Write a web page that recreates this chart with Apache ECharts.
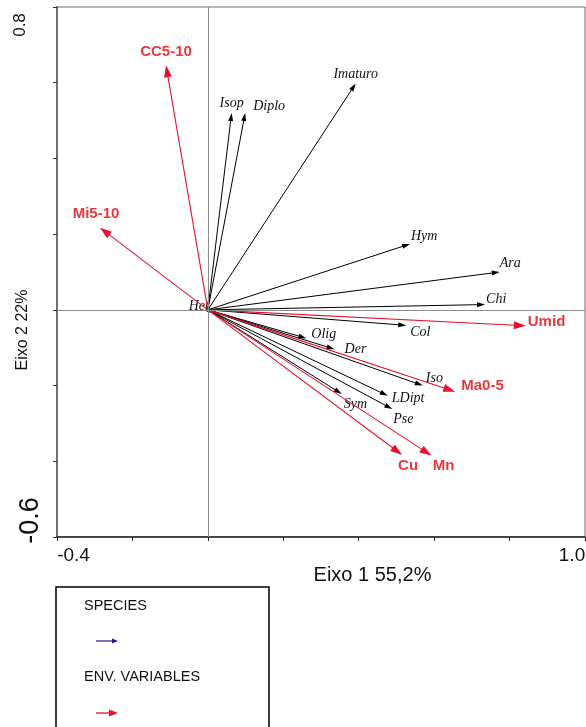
<!DOCTYPE html>
<html>
<head>
<meta charset="utf-8">
<style>
  html, body { margin: 0; padding: 0; background: #fff; }
  #chart { width: 586px; height: 727px; }
</style>
<script src="https://cdn.jsdelivr.net/npm/echarts@6/dist/echarts.min.js"></script>
</head>
<body>
<div id="chart"></div>
<script>
// CCA biplot: species scores and environmental variables on the first two axes
const speciesNames = ['Isop', 'Diplo', 'Imaturo', 'Hym', 'Ara', 'Chi', 'Col', 'Olig', 'Der', 'Iso', 'LDipt', 'Pse', 'Sym', 'Het'];
const speciesAxis1 = [0.063, 0.099, 0.392, 0.536, 0.774, 0.735, 0.526, 0.261, 0.336, 0.570, 0.477, 0.489, 0.355, 0.008];
const speciesAxis2 = [0.520, 0.520, 0.598, 0.174, 0.100, 0.014, -0.041, -0.075, -0.104, -0.200, -0.227, -0.262, -0.222, -0.008];

const envNames = ['CC5-10', 'Mi5-10', 'Umid', 'Ma0-5', 'Cu', 'Mn'];
const envAxis1 = [-0.111, -0.286, 0.843, 0.656, 0.515, 0.593];
const envAxis2 = [0.646, 0.217, -0.042, -0.216, -0.383, -0.385];

const axis1Ticks = { min: -0.4, max: 1.0, step: 0.2 };
const axis2Ticks = { min: -0.6, max: 0.8, step: 0.2 };
const axis1Title = 'Eixo 1 55,2%';
const axis2Title = 'Eixo 2 22%';
const legendTitles = ['SPECIES', 'ENV. VARIABLES'];

// label placement relative to each arrow tip: [dx, dy, align]
const labelPlacement = {
  'Isop': [0, -10, 'center'],
  'Diplo': [8, -7, 'left'],
  'Imaturo': [0, -9, 'center'],
  'Hym': [1, -8, 'left'],
  'Ara': [0, -9, 'left'],
  'Chi': [1, -5, 'left'],
  'Col': [4, 7, 'left'],
  'Olig': [5, -4, 'left'],
  'Der': [10, 0, 'left'],
  'Iso': [3, -7, 'left'],
  'LDipt': [4, 3, 'left'],
  'Pse': [1, 10, 'left'],
  'Sym': [2, 10, 'left'],
  'Het': [-2, -7, 'right'],
  'CC5-10': [0, -13, 'center'],
  'Mi5-10': [-4, -14, 'center'],
  'Umid': [2, -4, 'left'],
  'Ma0-5': [6, -6, 'left'],
  'Cu': [6, 11, 'center'],
  'Mn': [12, 10, 'center']
};

const RED = '#e3122f';
const RED_TEXT = '#e8383f';

function arrowSeries(names, xs, ys, look) {
  return {
    type: 'custom',
    coordinateSystem: 'cartesian2d',
    clip: false,
    silent: true,
    z: look.z,
    data: names.map((n, i) => [xs[i], ys[i]]),
    encode: { x: 0, y: 1 },
    renderItem(params, api) {
      const o = api.coord([0, 0]);
      const t = api.coord([api.value(0), api.value(1)]);
      const name = names[params.dataIndex];
      const dx = t[0] - o[0], dy = t[1] - o[1];
      const len = Math.hypot(dx, dy) || 1;
      const ux = dx / len, uy = dy / len;
      const hl = Math.min(look.headLen, Math.max(len, 5));
      const hw = look.headWidth / 2;
      const bx = t[0] - ux * hl, by = t[1] - uy * hl;
      const head = [[t[0], t[1]], [bx - uy * hw, by + ux * hw], [bx + uy * hw, by - ux * hw]];
      const p = labelPlacement[name] || [0, 0, 'left'];
      const children = [];
      if (len > hl) {
        children.push({
          type: 'line',
          shape: { x1: o[0], y1: o[1], x2: bx + ux, y2: by + uy },
          style: { stroke: look.color, lineWidth: look.lineWidth }
        });
      }
      children.push({ type: 'polygon', shape: { points: head }, style: { fill: look.color } });
      children.push({
        type: 'text',
        x: t[0] + p[0],
        y: t[1] + p[1],
        style: {
          text: name,
          fill: look.textColor,
          font: look.font,
          align: p[2],
          verticalAlign: 'middle'
        }
      });
      return { type: 'group', children };
    }
  };
}

const chart = echarts.init(document.getElementById('chart'), null, { renderer: 'canvas' });

const near = (a, b) => Math.abs(a - b) < 1e-9;

chart.setOption({
  animation: false,
  backgroundColor: '#ffffff',
  grid: {
    left: 57, right: 1, top: 7, bottom: 190,
    containLabel: false,
    outerBoundsMode: 'none',
    show: true, borderColor: '#6b6b6b', borderWidth: 1, backgroundColor: 'transparent'
  },
  xAxis: {
    type: 'value',
    min: axis1Ticks.min, max: axis1Ticks.max, interval: axis1Ticks.step,
    name: axis1Title,
    nameLocation: 'middle',
    nameGap: 28,
    nameMoveOverlap: false,
    nameTextStyle: { fontFamily: 'Liberation Sans', fontSize: 20, color: '#111', padding: [0, 0, 0, 103] },
    axisLine: { onZero: false, lineStyle: { color: '#222', width: 1.5 } },
    axisTick: { show: true, inside: false, length: 4, lineStyle: { color: '#222' } },
    splitLine: { show: false },
    axisLabel: {
      margin: 9,
      color: '#111',
      fontFamily: 'Liberation Sans',
      fontSize: 19,
      formatter: v => near(v, axis1Ticks.min) ? '{lo|' + v.toFixed(1) + '}' : (near(v, axis1Ticks.max) ? '{hi|' + v.toFixed(1) + '}' : ''),
      rich: {
        lo: { fontFamily: 'Liberation Sans', fontSize: 19, color: '#111', padding: [0, 0, 0, 33] },
        hi: { fontFamily: 'Liberation Sans', fontSize: 19, color: '#111', padding: [0, 26, 0, 0] }
      }
    }
  },
  yAxis: {
    type: 'value',
    min: axis2Ticks.min, max: axis2Ticks.max, interval: axis2Ticks.step,
    name: axis2Title,
    nameLocation: 'middle',
    nameGap: 26,
    nameMoveOverlap: false,
    nameTextStyle: { fontFamily: 'Liberation Sans', fontSize: 16, color: '#111', padding: [0, 116, 0, 0] },
    axisLine: { onZero: false, lineStyle: { color: '#707070', width: 2 } },
    axisTick: { show: true, inside: false, length: 4, lineStyle: { color: '#333' } },
    splitLine: { show: false },
    axisLabel: {
      rotate: 90,
      margin: 13,
      align: 'center',
      verticalAlign: 'bottom',
      color: '#111',
      fontFamily: 'Liberation Sans',
      formatter: v => near(v, axis2Ticks.max) ? '{hi|' + v.toFixed(1) + '}' : (near(v, axis2Ticks.min) ? '{lo|' + v.toFixed(1) + '}' : ''),
      rich: {
        hi: { fontFamily: 'Liberation Sans', fontSize: 17, color: '#111', padding: [0, 36, 15, 0] },
        lo: { fontFamily: 'Liberation Sans', fontSize: 27, color: '#111', padding: [0, 0, 0, 33] }
      }
    }
  },
  series: [
    {
      type: 'line',
      data: [],
      silent: true,
      z: 1,
      markLine: {
        silent: true,
        symbol: 'none',
        label: { show: false },
        lineStyle: { color: '#8c8c8c', width: 1, type: 'solid' },
        data: [{ xAxis: 0 }, { yAxis: 0 }]
      }
    },
    arrowSeries(speciesNames, speciesAxis1, speciesAxis2, {
      color: '#000', textColor: '#111', lineWidth: 1, headLen: 8, headWidth: 5, z: 3,
      font: 'italic 14px "Liberation Serif"'
    }),
    arrowSeries(envNames, envAxis1, envAxis2, {
      color: RED, textColor: RED_TEXT, lineWidth: 1.1, headLen: 12, headWidth: 8, z: 4,
      font: 'bold 15px "Liberation Sans"'
    })
  ],
  graphic: [
    {
      type: 'rect',
      shape: { x: 56, y: 587, width: 213, height: 200 },
      style: { fill: '#fff', stroke: '#000', lineWidth: 1.5 }
    },
    {
      type: 'text', x: 84, y: 606,
      style: { text: legendTitles[0], font: '14.5px "Liberation Sans"', fill: '#111', verticalAlign: 'middle' }
    },
    { type: 'line', shape: { x1: 96, y1: 641, x2: 113, y2: 641 }, style: { stroke: '#1a1a8a', lineWidth: 1.2 } },
    { type: 'polygon', shape: { points: [[118, 641], [112, 638.5], [112, 643.5]] }, style: { fill: '#1a1a8a' } },
    {
      type: 'text', x: 84, y: 677,
      style: { text: legendTitles[1], font: '14.5px "Liberation Sans"', fill: '#111', verticalAlign: 'middle' }
    },
    { type: 'line', shape: { x1: 96, y1: 713, x2: 110, y2: 713 }, style: { stroke: RED, lineWidth: 1.3 } },
    { type: 'polygon', shape: { points: [[118, 713], [109, 709.5], [109, 716.5]] }, style: { fill: RED } }
  ]
});
</script>
</body>
</html>
